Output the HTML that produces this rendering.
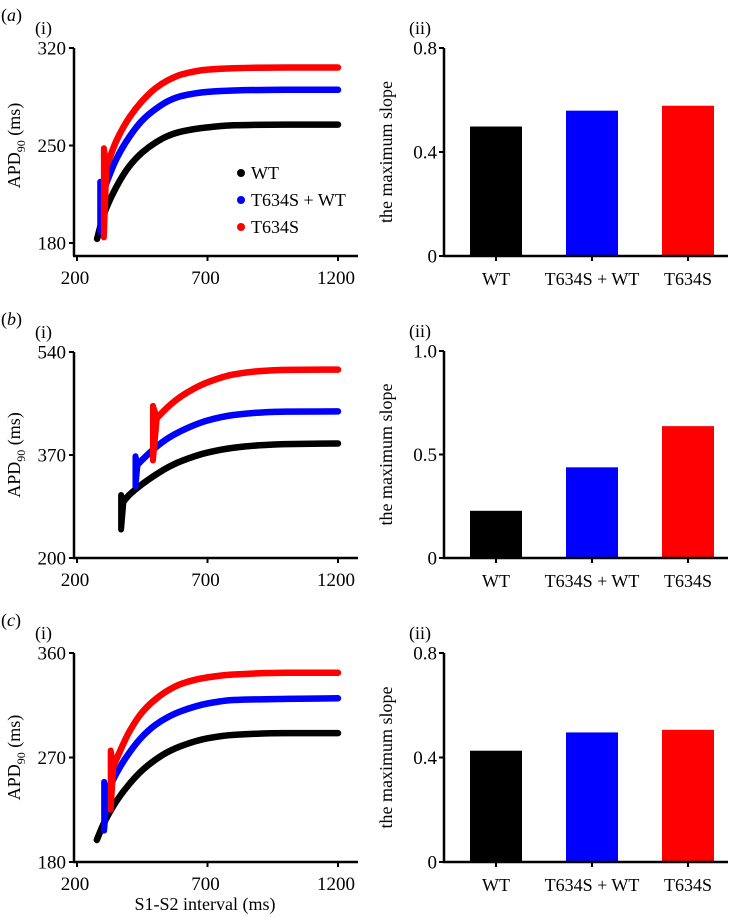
<!DOCTYPE html>
<html><head><meta charset="utf-8">
<style>
body{margin:0;background:#fff;}
svg{display:block;font-family:"Liberation Serif",serif;}
</style></head>
<body>
<svg id="fig" width="730" height="917" viewBox="0 0 730 917" xmlns="http://www.w3.org/2000/svg"></svg>
<script>
// ===== data =====
const groups = ["WT", "T634S + WT", "T634S"];
const colors = ["#000000", "#0000ff", "#ff0000"];
const xTicks = [200, 700, 1200];

// panel a (i)
const aTicks = [180, 250, 320];
const aWT_x = [277, 300, 350, 400, 450, 500, 550, 600, 700, 800, 1000, 1200];
const aWT_y = [183, 199, 220, 235, 245, 252, 257, 260, 263, 264.5, 265, 265];
const aMix_x = [289, 289, 298, 350, 400, 450, 500, 550, 600, 700, 800, 1000, 1200];
const aMix_y = [188, 224, 216, 240, 256, 268, 276, 282, 285.5, 288.5, 289.5, 290, 290];
const aMut_x = [303, 303, 313, 350, 400, 450, 500, 550, 600, 700, 800, 1000, 1200];
const aMut_y = [184, 248, 235, 253, 270, 282, 291, 297, 301, 304.5, 305.5, 306, 306];
// panel a (ii)
const aSlopeTicks = [0, 0.4, 0.8];
const aSlopes = [0.498, 0.559, 0.578];

// panel b (i)
const bTicks = [200, 370, 540];
const bWT_x = [369, 369, 378, 400, 450, 500, 550, 600, 700, 800, 900, 1000, 1200];
const bWT_y = [247, 304, 293, 304, 322, 337, 350, 360, 374, 382, 386, 388, 389];
const bMix_x = [424, 424, 432, 450, 500, 550, 600, 700, 800, 900, 1000, 1200];
const bMix_y = [318, 368, 354, 362, 382, 398, 410, 427, 436, 440, 441.5, 442];
const bMut_x = [491, 491, 506, 550, 600, 650, 700, 800, 900, 1000, 1200];
const bMut_y = [361, 451, 431, 450, 467, 480, 490, 503, 508.5, 510.5, 511];
// panel b (ii)
const bSlopeTicks = [0, 0.5, 1.0];
const bSlopes = [0.228, 0.438, 0.637];

// panel c (i)
const cTicks = [180, 270, 360];
const cWT_x = [276, 300, 350, 400, 450, 500, 550, 600, 700, 800, 1000, 1200];
const cWT_y = [199, 212, 232, 247, 259, 268, 275, 280, 286.5, 289.5, 291, 291];
const cMix_x = [304, 304, 316, 350, 400, 450, 500, 550, 600, 700, 800, 1000, 1200];
const cMix_y = [207, 249, 240, 256, 274, 288, 298, 305, 310, 316.5, 319.5, 320.5, 321];
const cMut_x = [329, 329, 340, 400, 450, 500, 550, 600, 700, 800, 1000, 1200];
const cMut_y = [225, 276, 263, 292, 309, 320, 328, 333.5, 339, 341.5, 343, 343];
// panel c (ii)
const cSlopeTicks = [0, 0.4, 0.8];
const cSlopes = [0.426, 0.496, 0.506];

// ===== drawing =====
const NS = "http://www.w3.org/2000/svg";
const svg = document.getElementById("fig");
function mk(tag, attrs, parent, text) {
  const e = document.createElementNS(NS, tag);
  for (const k in attrs) e.setAttribute(k, attrs[k]);
  if (text !== undefined) e.textContent = text;
  (parent || svg).appendChild(e);
  return e;
}
// monotone cubic (Fritsch–Carlson) path through points with increasing x
function monotonePath(pts) {
  const n = pts.length;
  if (n < 2) return "";
  const dx = [], m = [], t = [];
  for (let i = 0; i < n - 1; i++) {
    dx.push(pts[i + 1][0] - pts[i][0]);
    m.push((pts[i + 1][1] - pts[i][1]) / dx[i]);
  }
  t[0] = m[0]; t[n - 1] = m[n - 2];
  for (let i = 1; i < n - 1; i++) {
    if (m[i - 1] * m[i] <= 0) t[i] = 0;
    else {
      const w1 = 2 * dx[i] + dx[i - 1], w2 = dx[i] + 2 * dx[i - 1];
      t[i] = (w1 + w2) / (w1 / m[i - 1] + w2 / m[i]);
    }
  }
  let d = "M" + pts[0][0] + " " + pts[0][1];
  for (let i = 0; i < n - 1; i++) {
    const h = dx[i];
    d += " C" + (pts[i][0] + h / 3) + " " + (pts[i][1] + t[i] * h / 3) + " " +
      (pts[i + 1][0] - h / 3) + " " + (pts[i + 1][1] - t[i + 1] * h / 3) + " " +
      pts[i + 1][0] + " " + pts[i + 1][1];
  }
  return d;
}

function linePanel(cfg) {
  const g = mk("g", {});
  
  
  const X0 = 74, x200 = 77, x1200 = 338, xEnd = 358;
  const top = cfg.top, bottom = cfg.bottom;
  const ymin = cfg.ticks[0], ymax = cfg.ticks[cfg.ticks.length - 1];
  const xs = v => x200 + (v - 200) * (x1200 - x200) / 1000;
  const ys = v => bottom - (v - ymin) * (bottom - top) / (ymax - ymin);
  const axisBottom = bottom + cfg.gap;
  const pl = mk("text", {x: 1, y: top - 27, "font-size": 18, "font-style": "italic"}, g, "");
  
  
  mk("tspan", {"font-style": "normal"}, pl, "(");
  mk("tspan", {}, pl, cfg.letter);
  mk("tspan", {"font-style": "normal"}, pl, ")");
  const sub = mk("text", {x: 35, y: top - 14, "font-size": 18}, g, "(i)");
  
  
  const ya = mk("line", {x1: X0, y1: top, x2: X0, y2: axisBottom, stroke: "#000", "stroke-width": 2.5}, g);
  
  
  const xa = mk("line", {x1: X0 - 1, y1: axisBottom, x2: xEnd, y2: axisBottom, stroke: "#000", "stroke-width": 2.5}, g);
  
  
  cfg.ticks.forEach(t => {
    const y = ys(t);
    mk("line", {x1: X0 - 5, y1: y, x2: X0, y2: y, stroke: "#000", "stroke-width": 2}, g);
    const tl = mk("text", {x: X0 - 8, y: y + 6.5, "font-size": 19, "text-anchor": "end"}, g, String(t));
    
    
  });
  xTicks.forEach(t => {
    const x = xs(t);
    mk("line", {x1: x, y1: axisBottom, x2: x, y2: axisBottom + 5, stroke: "#000", "stroke-width": 2}, g);
    const tl = mk("text", {x: x - 2, y: axisBottom + 28, "font-size": 19, "text-anchor": "middle"}, g, String(t));
    
    
  });
  const yt = mk("text", {transform: "translate(20," + ((top + bottom) / 2) + ") rotate(-90)", "font-size": 18, "text-anchor": "middle"}, g, "");
  
  
  mk("tspan", {}, yt, "APD");
  mk("tspan", {"font-size": 12, dy: 5}, yt, "90");
  mk("tspan", {dy: -5}, yt, " (ms)");
  if (cfg.xtitle) {
    const xt = mk("text", {x: 205, y: 910, "font-size": 18, "text-anchor": "middle"}, g, "S1-S2 interval (ms)");
    
    
  }
  cfg.series.forEach((s, i) => {
    const pts = s.x.map((v, k) => [xs(v), ys(s.y[k])]);
    let rest = pts;
    if (s.spike) {
      const d = "M" + pts[0][0] + " " + pts[0][1] + " L" + pts[1][0] + " " + pts[1][1] +
        " L" + pts[2][0] + " " + pts[2][1] + " M" + pts[0][0] + " " + pts[0][1] + " L" + pts[2][0] + " " + pts[2][1];
      const p = mk("path", {d: d, fill: "none", stroke: colors[i], "stroke-width": 6, "stroke-linecap": "round", "stroke-linejoin": "round"}, g);
      
      
      rest = pts.slice(2);
    }
    const path = mk("path", {d: monotonePath(rest), fill: "none", stroke: colors[i], "stroke-width": 6.5, "stroke-linecap": "round", "stroke-linejoin": "round"}, g);
    
    
  });
  if (cfg.legend) {
    groups.forEach((gname, i) => {
      const y = 173 + i * 27;
      const dot = mk("circle", {cx: 241, cy: y, r: 4, fill: colors[i]}, g);
      
      
      const t = mk("text", {x: 251, y: y + 6, "font-size": 18}, g, gname);
      
      
    });
  }
}

function barPanel(cfg) {
  const g = mk("g", {});
  
  
  const X0 = 444, xEnd = 728, top = cfg.top, bottom = cfg.bottom;
  const ymax = cfg.ticks[cfg.ticks.length - 1];
  const ys = v => bottom - v * (bottom - top) / ymax;
  const centers = [496, 592, 688], bw = 52;
  const sub = mk("text", {x: 409, y: top - 14, "font-size": 18}, g, "(ii)");
  
  
  cfg.values.forEach((v, i) => {
    const r = mk("rect", {x: centers[i] - bw / 2, y: ys(v), width: bw, height: bottom - ys(v), fill: colors[i]}, g);
    
    
  });
  const ya = mk("line", {x1: X0, y1: top, x2: X0, y2: bottom, stroke: "#000", "stroke-width": 2.5}, g);
  
  
  const xa = mk("line", {x1: X0 - 1, y1: bottom, x2: xEnd, y2: bottom, stroke: "#000", "stroke-width": 2.5}, g);
  
  
  cfg.ticks.forEach(t => {
    const y = ys(t);
    mk("line", {x1: X0 - 5, y1: y, x2: X0, y2: y, stroke: "#000", "stroke-width": 2}, g);
    const tl = mk("text", {x: X0 - 7, y: y + 6.5, "font-size": 19, "text-anchor": "end"}, g, t === 0 ? "0" : t.toFixed(1));
    
    
  });
  groups.forEach((gname, i) => {
    mk("line", {x1: centers[i], y1: bottom, x2: centers[i], y2: bottom + 5, stroke: "#000", "stroke-width": 2}, g);
    const tl = mk("text", {x: centers[i], y: bottom + 29, "font-size": 18, "text-anchor": "middle"}, g, gname);
    
    
  });
  const yt = mk("text", {transform: "translate(392," + ((top + bottom) / 2) + ") rotate(-90)", "font-size": 18, "text-anchor": "middle"}, g, "the maximum slope");
  
  
}

linePanel({name: "panel-a-apd-curve", letter: "a", top: 48, bottom: 243, gap: 13, ticks: aTicks, legend: true,
  series: [{key: "wt", x: aWT_x, y: aWT_y}, {key: "mix", x: aMix_x, y: aMix_y, spike: true}, {key: "mut", x: aMut_x, y: aMut_y, spike: true}]});
barPanel({name: "panel-a-slope-bars", top: 48, bottom: 256, ticks: aSlopeTicks, values: aSlopes});

linePanel({name: "panel-b-apd-curve", letter: "b", top: 352, bottom: 558, gap: 0, ticks: bTicks,
  series: [{key: "wt", x: bWT_x, y: bWT_y, spike: true}, {key: "mix", x: bMix_x, y: bMix_y, spike: true}, {key: "mut", x: bMut_x, y: bMut_y, spike: true}]});
barPanel({name: "panel-b-slope-bars", top: 351, bottom: 558, ticks: bSlopeTicks, values: bSlopes});

linePanel({name: "panel-c-apd-curve", letter: "c", top: 653, bottom: 862, gap: 0, ticks: cTicks, xtitle: true,
  series: [{key: "wt", x: cWT_x, y: cWT_y}, {key: "mix", x: cMix_x, y: cMix_y, spike: true}, {key: "mut", x: cMut_x, y: cMut_y, spike: true}]});
barPanel({name: "panel-c-slope-bars", top: 653, bottom: 862, ticks: cSlopeTicks, values: cSlopes});
</script>
</body></html>
